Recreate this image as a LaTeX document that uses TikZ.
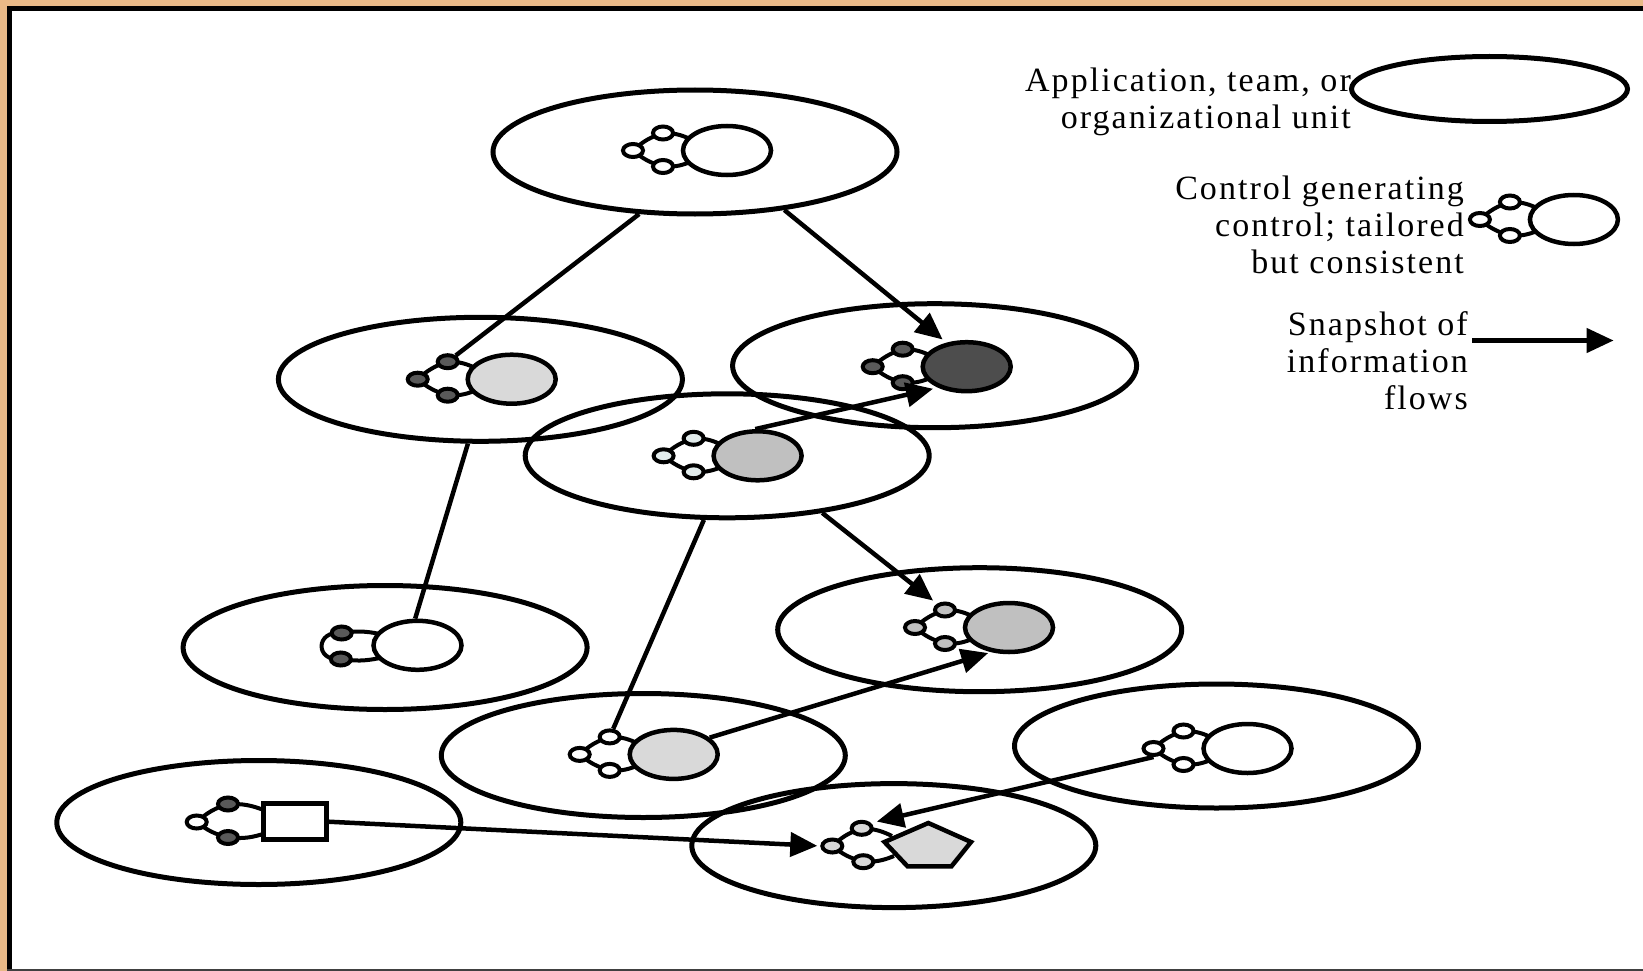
\documentclass[tikz,border=0pt]{standalone}
\usepackage{fontspec}
\newfontfamily\legfont{Liberation Serif}[LetterSpace=6.0]
\usetikzlibrary{shapes.geometric,arrows.meta,calc}
\definecolor{frameorange}{RGB}{233,185,135}
\definecolor{lgray}{RGB}{217,217,217}
\definecolor{mgray}{RGB}{192,192,192}
\definecolor{dgray}{RGB}{77,77,77}
\definecolor{sgray}{RGB}{89,89,89}
\definecolor{pale}{RGB}{226,236,236}
\tikzset{
  unit/.style={ellipse, draw=black, line width=5pt, minimum width=404pt, minimum height=124pt, inner sep=0pt},
  legell/.style={ellipse, draw=black, line width=5pt, minimum width=276pt, minimum height=65pt, inner sep=0pt},
  mainell/.style={ellipse, draw=black, line width=4.5pt, minimum width=88pt, minimum height=49pt, inner sep=0pt},
  mainrect/.style={rectangle, draw=black, line width=4.5pt, minimum width=62.6pt, minimum height=36pt, inner sep=0pt},
  smallell/.style={ellipse, draw=black, line width=4pt, minimum width=20pt, minimum height=13pt, inner sep=0pt},
  glyphline/.style={draw=black, line width=4pt},
  link/.style={draw=black, line width=4.5pt},
  flow/.style={draw=black, line width=4.5pt, -{Triangle[length=27pt,width=24pt]}},
  legtext/.style={font=\legfont\fontsize{34}{37}\selectfont, align=right, inner sep=0pt},
}
\newcommand{\ctlsym}[5]{%
  \draw[glyphline] ({#2-38},{#3-12}) to[bend right=12] ({#2-64},{#3-17.5}) to[bend right=12] ({#2-94},{#3}) to[bend right=12] ({#2-64},{#3+16}) to[bend right=12] ({#2-38},{#3+12});
  \node[smallell, fill=#5] (#1t) at ({#2-64},{#3-17.5}) {};
  \node[smallell, fill=#5] (#1l) at ({#2-94},{#3}) {};
  \node[smallell, fill=#5] (#1b) at ({#2-64},{#3+16}) {};
  \node[mainell, fill=#4] (#1m) at (#2,#3) {};
}
\begin{document}
\begin{tikzpicture}[x=1pt,y=-1pt]
\useasboundingbox (0,0) rectangle (1643,971);
% frame
\fill[frameorange] (0,0) rectangle (1643,971);
\fill[white] (7,6) rectangle (1643,971);
\fill[black] (7,6) rectangle (12,971);
\fill[black] (7,6) rectangle (1643,11);
\fill[black!75] (7,968.5) rectangle (1643,971);
% units
\node[unit] (E1) at (695,152) {};
\node[unit] (E2) at (480.4,379.3) {};
\node[unit] (E3) at (934.6,365.7) {};
\node[unit] (E4) at (727.2,455.8) {};
\node[unit] (E5) at (385.1,647.5) {};
\node[unit] (E6) at (979.7,629.7) {};
\node[unit] (E7) at (643.3,755.5) {};
\node[unit] (E8) at (1216.5,746) {};
\node[unit] (E9) at (258.8,822.5) {};
\node[unit] (E10) at (893.8,845.6) {};
% control symbols
\ctlsym{S1}{727}{150.5}{white}{white}
\ctlsym{S2}{511.7}{379.2}{lgray}{sgray}
\ctlsym{S3}{966.7}{366.7}{dgray}{sgray}
\ctlsym{S4}{757.6}{455.8}{mgray}{pale}
\ctlsym{S6}{1009}{627.5}{mgray}{mgray}
\ctlsym{S7}{673.7}{754.4}{lgray}{white}
\ctlsym{S8}{1247.5}{748.5}{white}{white}
% S5: two small circles only
\draw[glyphline] (380,634) to[bend right=10] (341.7,633) .. controls (315,630) and (315,662) .. (340.8,659) to[bend right=10] (380,658);
\node[smallell, fill=sgray] (S5t) at (341.7,633) {};
\node[smallell, fill=sgray] (S5b) at (340.8,659) {};
\node[mainell, fill=white] (S5m) at (417.5,645.3) {};
% S9: rectangle
\draw[glyphline] (266,811) to[bend right=12] (228,804) to[bend right=12] (196.7,822) to[bend right=12] (228,837.5) to[bend right=12] (266,833);
\node[smallell, fill=sgray] (S9t) at (228,804) {};
\node[smallell, fill=white] (S9l) at (196.7,822) {};
\node[smallell, fill=sgray] (S9b) at (228,837.5) {};
\node[mainrect, fill=white] (S9m) at (295,821.7) {};
% S10: pentagon
\draw[glyphline] (892,836) to[bend right=12] (861.7,828.3) to[bend right=12] (832.3,846) to[bend right=12] (863.3,861.7) to[bend right=12] (894,856);
\node[smallell, fill=lgray] (S10t) at (861.7,828.3) {};
\node[smallell, fill=lgray] (S10l) at (832.3,846) {};
\node[smallell, fill=lgray] (S10b) at (863.3,861.7) {};
\coordinate (S10p) at (928,848);
\draw[line width=4.5pt, fill=lgray, line join=miter] (928.3,823) -- (971,842) -- (951.5,866.3) -- (907.5,866.3) -- (884.5,842) -- cycle;
% connectors
\draw[link] (E1.228) -- (S2t);
\draw[flow, shorten >=5pt] (E1.327) -- (S3m.130);
\draw[flow, shorten >=5pt] (S4m.95) -- (S3m.216);
\draw[link] (E2.259) -- (S5m.95);
\draw[link] (E4.250) -- (S7t);
\draw[flow, shorten >=5pt] (E4.329) -- (S6t);
\draw[flow, shorten >=3pt] (S7m.25) -- (S6m.234);
\draw[flow, shorten >=6pt] (S8l.south) -- (S10t.30);
\draw[flow, shorten >=3pt] (S9m.east) -- (S10l.west);
% legend
\node[legell] (LE) at (1489.5,89) {};
\node[legtext, anchor=east] (LT1) at (1351,102) {Application, team, or\\organizational unit};
\node[legtext, anchor=east] (LT2) at (1464,225) {Control generating\\control; tailored\\but consistent};
\ctlsym{LS}{1573.9}{219.5}{white}{white}
\node[legtext, anchor=east] (LT3) at (1468,361) {Snapshot of\\information\\flows};
\coordinate (LA) at (1472,340.5);
\coordinate (LB) at (1613.6,340.5);
\draw[flow] (LA) -- (LB);
\end{tikzpicture}
\end{document}
